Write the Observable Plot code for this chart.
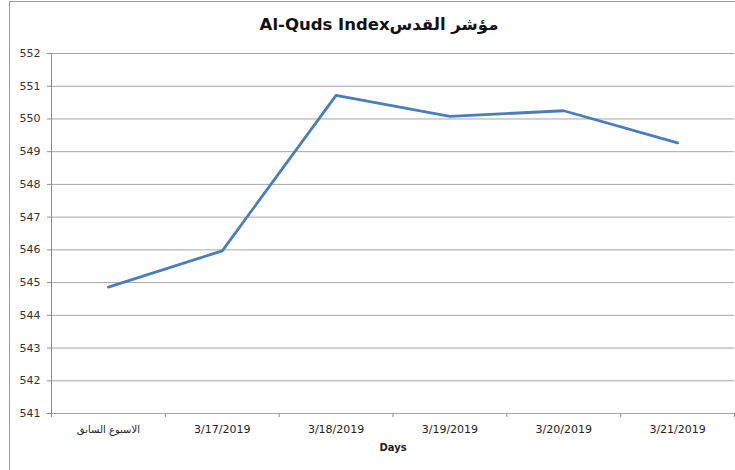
<!DOCTYPE html>
<html>
<head>
<meta charset="utf-8">
<script src="https://cdn.jsdelivr.net/npm/d3@7"></script>
<script src="https://cdn.jsdelivr.net/npm/@observablehq/plot@0.6"></script>
<style>
  html, body { margin: 0; padding: 0; background: #fff; }
  #wrap { position: relative; width: 735px; height: 470px; overflow: hidden; }
  #frame { position: absolute; left: 9px; top: 1px; width: 800px; height: 600px;
           border-left: 1.5px solid #9a9a9a; border-top: 1.5px solid #9a9a9a; pointer-events: none; }
</style>
</head>
<body>
<div id="wrap"><div id="frame"></div></div>
<script>
const categories = ["الاسبوع السابق", "3/17/2019", "3/18/2019", "3/19/2019", "3/20/2019", "3/21/2019"];
const values = [544.86, 545.97, 550.72, 550.08, 550.25, 549.27];
const yTicks = [541, 542, 543, 544, 545, 546, 547, 548, 549, 550, 551, 552];
const title = "Al-Quds Indexمؤشر القدس";
const xLabel = "Days";

const data = categories.map((c, i) => ({i, c, v: values[i]}));
const idx = categories.map((c, i) => i);
const bounds = [...idx.map(i => i - 0.5), categories.length - 0.5];

const font = "'DejaVu Sans', 'Liberation Sans', sans-serif";

const chart = Plot.plot({
  width: 735,
  height: 470,
  marginLeft: 51,
  marginRight: 1,
  marginTop: 53,
  marginBottom: 57,
  style: {fontFamily: font, fontSize: "11px", color: "#222", background: "transparent"},
  x: {type: "linear", domain: [-0.5, categories.length - 0.5]},
  y: {domain: [541, 552]},
  marks: [
    Plot.gridY(yTicks, {stroke: "#a6a6a6", strokeOpacity: 1, strokeWidth: 1}),
    Plot.ruleX([-0.5], {stroke: "#8c8c8c", strokeWidth: 1}),
    Plot.ruleY([541], {stroke: "#a6a6a6", strokeWidth: 1}),
    Plot.axisY(yTicks, {tickSize: 4, stroke: "#8c8c8c", tickPadding: 7, tickFormat: d => String(d), label: null, fill: "#333"}),
    Plot.axisX(bounds, {tickSize: 4, stroke: "#8c8c8c", tickFormat: () => "", label: null}),
    Plot.axisX(idx, {tickSize: 0, tickPadding: 12, tickFormat: i => categories[i], label: null, fill: "#222",
      fontSize: (i) => i === 0 ? 10 : 11}),
    Plot.line(data, {x: "i", y: "v", stroke: "#4a7ebb", strokeWidth: 2.8, strokeLinejoin: "round"}),
    Plot.text([title], {frameAnchor: "top", dy: -35, dx: -14, fontSize: 16.5, fontWeight: "bold", fill: "#111", fontFamily: "'DejaVu Sans', 'Liberation Sans', sans-serif"}),
    Plot.text([xLabel], {frameAnchor: "bottom", dy: 37, fontSize: 10, fontWeight: "bold", fill: "#222"})
  ]
});
chart.style.position = "absolute";
chart.style.left = "0px";
chart.style.top = "0px";
document.getElementById("wrap").prepend(chart);
</script>
</body>
</html>
